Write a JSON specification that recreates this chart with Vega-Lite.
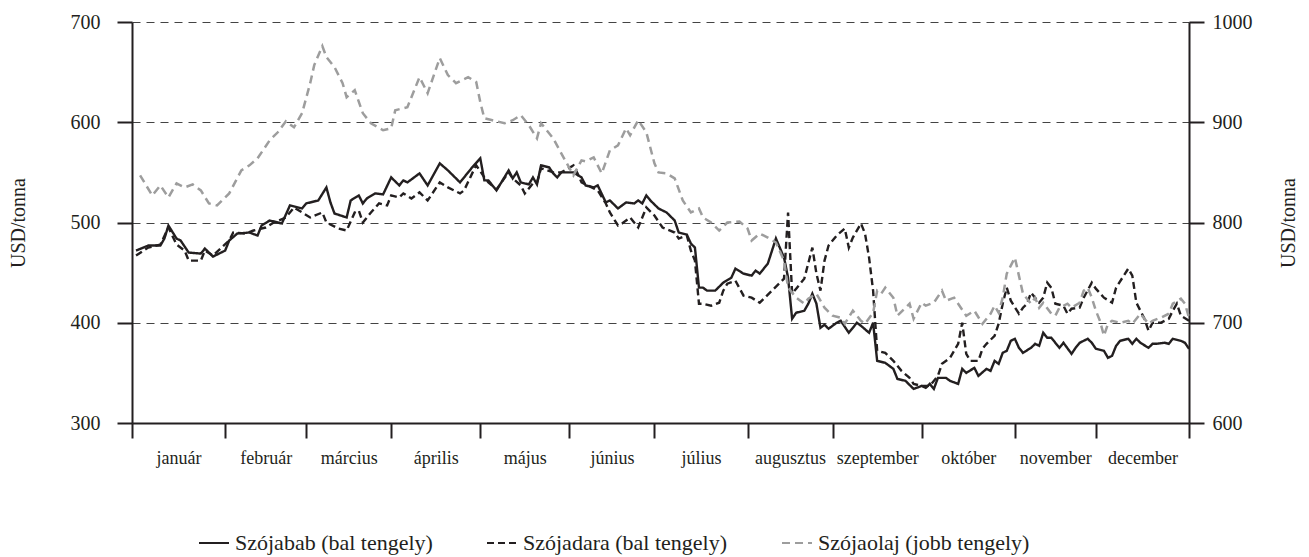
{
  "$schema": "https://vega.github.io/schema/vega-lite/v6.json",
  "autosize": "none",
  "width": 1057,
  "height": 401,
  "padding": {"left": 132, "top": 22, "right": 120, "bottom": 134},
  "config": {
    "font": "Liberation Serif",
    "view": {"stroke": null},
    "axis": {
      "labelFont": "Liberation Serif",
      "titleFont": "Liberation Serif",
      "labelColor": "#231f20",
      "titleColor": "#231f20",
      "domainColor": "#231f20",
      "tickColor": "#231f20",
      "domainWidth": 2,
      "tickWidth": 2,
      "tickSize": 15,
      "titleFontWeight": "normal"
    },
    "legend": {"labelFont": "Liberation Serif"}
  },
  "datasets": {
    "bal": [
      {"nap":1,"termek":"Szójabab (bal tengely)","ertek":472},{"nap":4,"termek":"Szójabab (bal tengely)","ertek":477},{"nap":7,"termek":"Szójabab (bal tengely)","ertek":477},{"nap":8,"termek":"Szójabab (bal tengely)","ertek":484},{"nap":9,"termek":"Szójabab (bal tengely)","ertek":497},{"nap":11,"termek":"Szójabab (bal tengely)","ertek":484},{"nap":12,"termek":"Szójabab (bal tengely)","ertek":482},{"nap":14,"termek":"Szójabab (bal tengely)","ertek":470},{"nap":17,"termek":"Szójabab (bal tengely)","ertek":469},{"nap":18,"termek":"Szójabab (bal tengely)","ertek":474},{"nap":20,"termek":"Szójabab (bal tengely)","ertek":466},{"nap":23,"termek":"Szójabab (bal tengely)","ertek":472},{"nap":24,"termek":"Szójabab (bal tengely)","ertek":482},{"nap":26,"termek":"Szójabab (bal tengely)","ertek":489},{"nap":29,"termek":"Szójabab (bal tengely)","ertek":490},{"nap":31,"termek":"Szójabab (bal tengely)","ertek":487},{"nap":32,"termek":"Szójabab (bal tengely)","ertek":497},{"nap":34,"termek":"Szójabab (bal tengely)","ertek":502},{"nap":37,"termek":"Szójabab (bal tengely)","ertek":499},{"nap":39,"termek":"Szójabab (bal tengely)","ertek":517},{"nap":42,"termek":"Szójabab (bal tengely)","ertek":514},{"nap":43,"termek":"Szójabab (bal tengely)","ertek":519},{"nap":46,"termek":"Szójabab (bal tengely)","ertek":522},{"nap":48,"termek":"Szójabab (bal tengely)","ertek":535},{"nap":49,"termek":"Szójabab (bal tengely)","ertek":520},{"nap":50,"termek":"Szójabab (bal tengely)","ertek":509},{"nap":53,"termek":"Szójabab (bal tengely)","ertek":505},{"nap":54,"termek":"Szójabab (bal tengely)","ertek":522},{"nap":56,"termek":"Szójabab (bal tengely)","ertek":527},{"nap":57,"termek":"Szójabab (bal tengely)","ertek":519},{"nap":58,"termek":"Szójabab (bal tengely)","ertek":524},{"nap":60,"termek":"Szójabab (bal tengely)","ertek":529},{"nap":62,"termek":"Szójabab (bal tengely)","ertek":528},{"nap":64,"termek":"Szójabab (bal tengely)","ertek":545},{"nap":66,"termek":"Szójabab (bal tengely)","ertek":537},{"nap":67,"termek":"Szójabab (bal tengely)","ertek":542},{"nap":68,"termek":"Szójabab (bal tengely)","ertek":540},{"nap":71,"termek":"Szójabab (bal tengely)","ertek":549},{"nap":73,"termek":"Szójabab (bal tengely)","ertek":537},{"nap":76,"termek":"Szójabab (bal tengely)","ertek":559},{"nap":78,"termek":"Szójabab (bal tengely)","ertek":552},{"nap":81,"termek":"Szójabab (bal tengely)","ertek":540},{"nap":83,"termek":"Szójabab (bal tengely)","ertek":550},{"nap":84,"termek":"Szójabab (bal tengely)","ertek":555},{"nap":86,"termek":"Szójabab (bal tengely)","ertek":564},{"nap":87,"termek":"Szójabab (bal tengely)","ertek":542},{"nap":88,"termek":"Szójabab (bal tengely)","ertek":542},{"nap":90,"termek":"Szójabab (bal tengely)","ertek":532},{"nap":93,"termek":"Szójabab (bal tengely)","ertek":552},{"nap":94,"termek":"Szójabab (bal tengely)","ertek":544},{"nap":95,"termek":"Szójabab (bal tengely)","ertek":550},{"nap":96,"termek":"Szójabab (bal tengely)","ertek":540},{"nap":98,"termek":"Szójabab (bal tengely)","ertek":538},{"nap":99,"termek":"Szójabab (bal tengely)","ertek":545},{"nap":100,"termek":"Szójabab (bal tengely)","ertek":538},{"nap":101,"termek":"Szójabab (bal tengely)","ertek":557},{"nap":103,"termek":"Szójabab (bal tengely)","ertek":555},{"nap":104,"termek":"Szójabab (bal tengely)","ertek":549},{"nap":105,"termek":"Szójabab (bal tengely)","ertek":545},{"nap":106,"termek":"Szójabab (bal tengely)","ertek":550},{"nap":109,"termek":"Szójabab (bal tengely)","ertek":550},{"nap":111,"termek":"Szójabab (bal tengely)","ertek":545},{"nap":112,"termek":"Szójabab (bal tengely)","ertek":537},{"nap":114,"termek":"Szójabab (bal tengely)","ertek":535},{"nap":115,"termek":"Szójabab (bal tengely)","ertek":537},{"nap":117,"termek":"Szójabab (bal tengely)","ertek":520},{"nap":118,"termek":"Szójabab (bal tengely)","ertek":522},{"nap":120,"termek":"Szójabab (bal tengely)","ertek":514},{"nap":122,"termek":"Szójabab (bal tengely)","ertek":520},{"nap":124,"termek":"Szójabab (bal tengely)","ertek":519},{"nap":125,"termek":"Szójabab (bal tengely)","ertek":522},{"nap":126,"termek":"Szójabab (bal tengely)","ertek":519},{"nap":127,"termek":"Szójabab (bal tengely)","ertek":527},{"nap":128,"termek":"Szójabab (bal tengely)","ertek":522},{"nap":130,"termek":"Szójabab (bal tengely)","ertek":514},{"nap":132,"termek":"Szójabab (bal tengely)","ertek":510},{"nap":134,"termek":"Szójabab (bal tengely)","ertek":502},{"nap":135,"termek":"Szójabab (bal tengely)","ertek":490},{"nap":137,"termek":"Szójabab (bal tengely)","ertek":488},{"nap":138,"termek":"Szójabab (bal tengely)","ertek":479},{"nap":139,"termek":"Szójabab (bal tengely)","ertek":475},{"nap":140,"termek":"Szójabab (bal tengely)","ertek":435},{"nap":141,"termek":"Szójabab (bal tengely)","ertek":435},{"nap":142,"termek":"Szójabab (bal tengely)","ertek":432},{"nap":144,"termek":"Szójabab (bal tengely)","ertek":432},{"nap":146,"termek":"Szójabab (bal tengely)","ertek":440},{"nap":148,"termek":"Szójabab (bal tengely)","ertek":445},{"nap":149,"termek":"Szójabab (bal tengely)","ertek":454},{"nap":151,"termek":"Szójabab (bal tengely)","ertek":449},{"nap":153,"termek":"Szójabab (bal tengely)","ertek":447},{"nap":154,"termek":"Szójabab (bal tengely)","ertek":452},{"nap":155,"termek":"Szójabab (bal tengely)","ertek":449},{"nap":157,"termek":"Szójabab (bal tengely)","ertek":459},{"nap":159,"termek":"Szójabab (bal tengely)","ertek":484},{"nap":161,"termek":"Szójabab (bal tengely)","ertek":465},{"nap":162,"termek":"Szójabab (bal tengely)","ertek":445},{"nap":163,"termek":"Szójabab (bal tengely)","ertek":404},{"nap":164,"termek":"Szójabab (bal tengely)","ertek":410},{"nap":166,"termek":"Szójabab (bal tengely)","ertek":412},{"nap":167,"termek":"Szójabab (bal tengely)","ertek":419},{"nap":168,"termek":"Szójabab (bal tengely)","ertek":429},{"nap":169,"termek":"Szójabab (bal tengely)","ertek":419},{"nap":170,"termek":"Szójabab (bal tengely)","ertek":395},{"nap":171,"termek":"Szójabab (bal tengely)","ertek":398},{"nap":172,"termek":"Szójabab (bal tengely)","ertek":394},{"nap":174,"termek":"Szójabab (bal tengely)","ertek":400},{"nap":175,"termek":"Szójabab (bal tengely)","ertek":402},{"nap":177,"termek":"Szójabab (bal tengely)","ertek":390},{"nap":179,"termek":"Szójabab (bal tengely)","ertek":400},{"nap":180,"termek":"Szójabab (bal tengely)","ertek":397},{"nap":182,"termek":"Szójabab (bal tengely)","ertek":390},{"nap":183,"termek":"Szójabab (bal tengely)","ertek":400},{"nap":184,"termek":"Szójabab (bal tengely)","ertek":362},{"nap":186,"termek":"Szójabab (bal tengely)","ertek":360},{"nap":188,"termek":"Szójabab (bal tengely)","ertek":354},{"nap":189,"termek":"Szójabab (bal tengely)","ertek":344},{"nap":191,"termek":"Szójabab (bal tengely)","ertek":342},{"nap":193,"termek":"Szójabab (bal tengely)","ertek":334},{"nap":195,"termek":"Szójabab (bal tengely)","ertek":337},{"nap":196,"termek":"Szójabab (bal tengely)","ertek":335},{"nap":197,"termek":"Szójabab (bal tengely)","ertek":339},{"nap":198,"termek":"Szójabab (bal tengely)","ertek":334},{"nap":199,"termek":"Szójabab (bal tengely)","ertek":345},{"nap":201,"termek":"Szójabab (bal tengely)","ertek":345},{"nap":202,"termek":"Szójabab (bal tengely)","ertek":342},{"nap":204,"termek":"Szójabab (bal tengely)","ertek":339},{"nap":205,"termek":"Szójabab (bal tengely)","ertek":354},{"nap":206,"termek":"Szójabab (bal tengely)","ertek":350},{"nap":208,"termek":"Szójabab (bal tengely)","ertek":355},{"nap":209,"termek":"Szójabab (bal tengely)","ertek":347},{"nap":211,"termek":"Szójabab (bal tengely)","ertek":354},{"nap":212,"termek":"Szójabab (bal tengely)","ertek":352},{"nap":213,"termek":"Szójabab (bal tengely)","ertek":362},{"nap":214,"termek":"Szójabab (bal tengely)","ertek":359},{"nap":215,"termek":"Szójabab (bal tengely)","ertek":370},{"nap":216,"termek":"Szójabab (bal tengely)","ertek":372},{"nap":217,"termek":"Szójabab (bal tengely)","ertek":382},{"nap":218,"termek":"Szójabab (bal tengely)","ertek":384},{"nap":219,"termek":"Szójabab (bal tengely)","ertek":375},{"nap":220,"termek":"Szójabab (bal tengely)","ertek":370},{"nap":222,"termek":"Szójabab (bal tengely)","ertek":375},{"nap":223,"termek":"Szójabab (bal tengely)","ertek":379},{"nap":224,"termek":"Szójabab (bal tengely)","ertek":377},{"nap":225,"termek":"Szójabab (bal tengely)","ertek":390},{"nap":226,"termek":"Szójabab (bal tengely)","ertek":385},{"nap":227,"termek":"Szójabab (bal tengely)","ertek":385},{"nap":229,"termek":"Szójabab (bal tengely)","ertek":375},{"nap":230,"termek":"Szójabab (bal tengely)","ertek":380},{"nap":232,"termek":"Szójabab (bal tengely)","ertek":369},{"nap":233,"termek":"Szójabab (bal tengely)","ertek":375},{"nap":234,"termek":"Szójabab (bal tengely)","ertek":380},{"nap":236,"termek":"Szójabab (bal tengely)","ertek":384},{"nap":237,"termek":"Szójabab (bal tengely)","ertek":380},{"nap":238,"termek":"Szójabab (bal tengely)","ertek":374},{"nap":240,"termek":"Szójabab (bal tengely)","ertek":372},{"nap":241,"termek":"Szójabab (bal tengely)","ertek":365},{"nap":242,"termek":"Szójabab (bal tengely)","ertek":367},{"nap":243,"termek":"Szójabab (bal tengely)","ertek":377},{"nap":244,"termek":"Szójabab (bal tengely)","ertek":382},{"nap":246,"termek":"Szójabab (bal tengely)","ertek":384},{"nap":247,"termek":"Szójabab (bal tengely)","ertek":379},{"nap":248,"termek":"Szójabab (bal tengely)","ertek":384},{"nap":249,"termek":"Szójabab (bal tengely)","ertek":380},{"nap":251,"termek":"Szójabab (bal tengely)","ertek":375},{"nap":252,"termek":"Szójabab (bal tengely)","ertek":379},{"nap":253,"termek":"Szójabab (bal tengely)","ertek":379},{"nap":255,"termek":"Szójabab (bal tengely)","ertek":380},{"nap":256,"termek":"Szójabab (bal tengely)","ertek":379},{"nap":257,"termek":"Szójabab (bal tengely)","ertek":384},{"nap":259,"termek":"Szójabab (bal tengely)","ertek":382},{"nap":260,"termek":"Szójabab (bal tengely)","ertek":380},{"nap":261,"termek":"Szójabab (bal tengely)","ertek":374},
      {"nap":1,"termek":"Szójadara (bal tengely)","ertek":467},{"nap":4,"termek":"Szójadara (bal tengely)","ertek":475},{"nap":7,"termek":"Szójadara (bal tengely)","ertek":478},{"nap":9,"termek":"Szójadara (bal tengely)","ertek":495},{"nap":11,"termek":"Szójadara (bal tengely)","ertek":478},{"nap":13,"termek":"Szójadara (bal tengely)","ertek":472},{"nap":14,"termek":"Szójadara (bal tengely)","ertek":462},{"nap":17,"termek":"Szójadara (bal tengely)","ertek":462},{"nap":18,"termek":"Szójadara (bal tengely)","ertek":472},{"nap":20,"termek":"Szójadara (bal tengely)","ertek":467},{"nap":24,"termek":"Szójadara (bal tengely)","ertek":482},{"nap":25,"termek":"Szójadara (bal tengely)","ertek":490},{"nap":28,"termek":"Szójadara (bal tengely)","ertek":489},{"nap":30,"termek":"Szójadara (bal tengely)","ertek":492},{"nap":33,"termek":"Szójadara (bal tengely)","ertek":495},{"nap":35,"termek":"Szójadara (bal tengely)","ertek":500},{"nap":38,"termek":"Szójadara (bal tengely)","ertek":505},{"nap":40,"termek":"Szójadara (bal tengely)","ertek":515},{"nap":42,"termek":"Szójadara (bal tengely)","ertek":510},{"nap":44,"termek":"Szójadara (bal tengely)","ertek":505},{"nap":47,"termek":"Szójadara (bal tengely)","ertek":510},{"nap":48,"termek":"Szójadara (bal tengely)","ertek":500},{"nap":51,"termek":"Szójadara (bal tengely)","ertek":494},{"nap":53,"termek":"Szójadara (bal tengely)","ertek":492},{"nap":55,"termek":"Szójadara (bal tengely)","ertek":510},{"nap":56,"termek":"Szójadara (bal tengely)","ertek":512},{"nap":57,"termek":"Szójadara (bal tengely)","ertek":500},{"nap":59,"termek":"Szójadara (bal tengely)","ertek":510},{"nap":61,"termek":"Szójadara (bal tengely)","ertek":519},{"nap":63,"termek":"Szójadara (bal tengely)","ertek":517},{"nap":64,"termek":"Szójadara (bal tengely)","ertek":527},{"nap":66,"termek":"Szójadara (bal tengely)","ertek":525},{"nap":67,"termek":"Szójadara (bal tengely)","ertek":529},{"nap":69,"termek":"Szójadara (bal tengely)","ertek":524},{"nap":71,"termek":"Szójadara (bal tengely)","ertek":530},{"nap":73,"termek":"Szójadara (bal tengely)","ertek":522},{"nap":76,"termek":"Szójadara (bal tengely)","ertek":540},{"nap":78,"termek":"Szójadara (bal tengely)","ertek":535},{"nap":81,"termek":"Szójadara (bal tengely)","ertek":529},{"nap":82,"termek":"Szójadara (bal tengely)","ertek":532},{"nap":84,"termek":"Szójadara (bal tengely)","ertek":549},{"nap":85,"termek":"Szójadara (bal tengely)","ertek":557},{"nap":87,"termek":"Szójadara (bal tengely)","ertek":545},{"nap":88,"termek":"Szójadara (bal tengely)","ertek":540},{"nap":90,"termek":"Szójadara (bal tengely)","ertek":533},{"nap":93,"termek":"Szójadara (bal tengely)","ertek":550},{"nap":94,"termek":"Szójadara (bal tengely)","ertek":544},{"nap":96,"termek":"Szójadara (bal tengely)","ertek":537},{"nap":97,"termek":"Szójadara (bal tengely)","ertek":529},{"nap":99,"termek":"Szójadara (bal tengely)","ertek":539},{"nap":100,"termek":"Szójadara (bal tengely)","ertek":540},{"nap":101,"termek":"Szójadara (bal tengely)","ertek":554},{"nap":104,"termek":"Szójadara (bal tengely)","ertek":550},{"nap":106,"termek":"Szójadara (bal tengely)","ertek":550},{"nap":109,"termek":"Szójadara (bal tengely)","ertek":557},{"nap":110,"termek":"Szójadara (bal tengely)","ertek":549},{"nap":111,"termek":"Szójadara (bal tengely)","ertek":540},{"nap":114,"termek":"Szójadara (bal tengely)","ertek":534},{"nap":115,"termek":"Szójadara (bal tengely)","ertek":532},{"nap":117,"termek":"Szójadara (bal tengely)","ertek":519},{"nap":118,"termek":"Szójadara (bal tengely)","ertek":510},{"nap":120,"termek":"Szójadara (bal tengely)","ertek":497},{"nap":121,"termek":"Szójadara (bal tengely)","ertek":499},{"nap":123,"termek":"Szójadara (bal tengely)","ertek":505},{"nap":125,"termek":"Szójadara (bal tengely)","ertek":495},{"nap":126,"termek":"Szójadara (bal tengely)","ertek":505},{"nap":127,"termek":"Szójadara (bal tengely)","ertek":515},{"nap":129,"termek":"Szójadara (bal tengely)","ertek":507},{"nap":131,"termek":"Szójadara (bal tengely)","ertek":495},{"nap":134,"termek":"Szójadara (bal tengely)","ertek":490},{"nap":135,"termek":"Szójadara (bal tengely)","ertek":484},{"nap":137,"termek":"Szójadara (bal tengely)","ertek":487},{"nap":138,"termek":"Szójadara (bal tengely)","ertek":472},{"nap":139,"termek":"Szójadara (bal tengely)","ertek":462},{"nap":140,"termek":"Szójadara (bal tengely)","ertek":419},{"nap":141,"termek":"Szójadara (bal tengely)","ertek":419},{"nap":143,"termek":"Szójadara (bal tengely)","ertek":417},{"nap":145,"termek":"Szójadara (bal tengely)","ertek":420},{"nap":146,"termek":"Szójadara (bal tengely)","ertek":432},{"nap":147,"termek":"Szójadara (bal tengely)","ertek":439},{"nap":149,"termek":"Szójadara (bal tengely)","ertek":442},{"nap":151,"termek":"Szójadara (bal tengely)","ertek":427},{"nap":153,"termek":"Szójadara (bal tengely)","ertek":425},{"nap":155,"termek":"Szójadara (bal tengely)","ertek":420},{"nap":158,"termek":"Szójadara (bal tengely)","ertek":432},{"nap":160,"termek":"Szójadara (bal tengely)","ertek":440},{"nap":161,"termek":"Szójadara (bal tengely)","ertek":444},{"nap":162,"termek":"Szójadara (bal tengely)","ertek":510},{"nap":163,"termek":"Szójadara (bal tengely)","ertek":429},{"nap":164,"termek":"Szójadara (bal tengely)","ertek":434},{"nap":166,"termek":"Szójadara (bal tengely)","ertek":444},{"nap":168,"termek":"Szójadara (bal tengely)","ertek":475},{"nap":169,"termek":"Szójadara (bal tengely)","ertek":449},{"nap":170,"termek":"Szójadara (bal tengely)","ertek":432},{"nap":171,"termek":"Szójadara (bal tengely)","ertek":462},{"nap":172,"termek":"Szójadara (bal tengely)","ertek":477},{"nap":174,"termek":"Szójadara (bal tengely)","ertek":487},{"nap":176,"termek":"Szójadara (bal tengely)","ertek":494},{"nap":177,"termek":"Szójadara (bal tengely)","ertek":475},{"nap":178,"termek":"Szójadara (bal tengely)","ertek":485},{"nap":180,"termek":"Szójadara (bal tengely)","ertek":499},{"nap":181,"termek":"Szójadara (bal tengely)","ertek":489},{"nap":182,"termek":"Szójadara (bal tengely)","ertek":465},{"nap":183,"termek":"Szójadara (bal tengely)","ertek":432},{"nap":184,"termek":"Szójadara (bal tengely)","ertek":372},{"nap":186,"termek":"Szójadara (bal tengely)","ertek":370},{"nap":188,"termek":"Szójadara (bal tengely)","ertek":362},{"nap":190,"termek":"Szójadara (bal tengely)","ertek":352},{"nap":192,"termek":"Szójadara (bal tengely)","ertek":345},{"nap":193,"termek":"Szójadara (bal tengely)","ertek":339},{"nap":195,"termek":"Szójadara (bal tengely)","ertek":337},{"nap":197,"termek":"Szójadara (bal tengely)","ertek":337},{"nap":199,"termek":"Szójadara (bal tengely)","ertek":347},{"nap":200,"termek":"Szójadara (bal tengely)","ertek":359},{"nap":202,"termek":"Szójadara (bal tengely)","ertek":365},{"nap":204,"termek":"Szójadara (bal tengely)","ertek":379},{"nap":205,"termek":"Szójadara (bal tengely)","ertek":400},{"nap":206,"termek":"Szójadara (bal tengely)","ertek":369},{"nap":207,"termek":"Szójadara (bal tengely)","ertek":362},{"nap":209,"termek":"Szójadara (bal tengely)","ertek":362},{"nap":210,"termek":"Szójadara (bal tengely)","ertek":374},{"nap":211,"termek":"Szójadara (bal tengely)","ertek":379},{"nap":213,"termek":"Szójadara (bal tengely)","ertek":387},{"nap":214,"termek":"Szójadara (bal tengely)","ertek":399},{"nap":215,"termek":"Szójadara (bal tengely)","ertek":419},{"nap":216,"termek":"Szójadara (bal tengely)","ertek":435},{"nap":217,"termek":"Szójadara (bal tengely)","ertek":422},{"nap":219,"termek":"Szójadara (bal tengely)","ertek":409},{"nap":220,"termek":"Szójadara (bal tengely)","ertek":415},{"nap":221,"termek":"Szójadara (bal tengely)","ertek":419},{"nap":222,"termek":"Szójadara (bal tengely)","ertek":430},{"nap":224,"termek":"Szójadara (bal tengely)","ertek":420},{"nap":225,"termek":"Szójadara (bal tengely)","ertek":425},{"nap":226,"termek":"Szójadara (bal tengely)","ertek":440},{"nap":227,"termek":"Szójadara (bal tengely)","ertek":435},{"nap":228,"termek":"Szójadara (bal tengely)","ertek":419},{"nap":230,"termek":"Szójadara (bal tengely)","ertek":417},{"nap":231,"termek":"Szójadara (bal tengely)","ertek":409},{"nap":232,"termek":"Szójadara (bal tengely)","ertek":414},{"nap":234,"termek":"Szójadara (bal tengely)","ertek":415},{"nap":235,"termek":"Szójadara (bal tengely)","ertek":425},{"nap":237,"termek":"Szójadara (bal tengely)","ertek":440},{"nap":238,"termek":"Szójadara (bal tengely)","ertek":434},{"nap":240,"termek":"Szójadara (bal tengely)","ertek":425},{"nap":242,"termek":"Szójadara (bal tengely)","ertek":420},{"nap":243,"termek":"Szójadara (bal tengely)","ertek":435},{"nap":246,"termek":"Szójadara (bal tengely)","ertek":454},{"nap":247,"termek":"Szójadara (bal tengely)","ertek":447},{"nap":248,"termek":"Szójadara (bal tengely)","ertek":420},{"nap":250,"termek":"Szójadara (bal tengely)","ertek":404},{"nap":251,"termek":"Szójadara (bal tengely)","ertek":392},{"nap":252,"termek":"Szójadara (bal tengely)","ertek":400},{"nap":254,"termek":"Szójadara (bal tengely)","ertek":400},{"nap":256,"termek":"Szójadara (bal tengely)","ertek":404},{"nap":257,"termek":"Szójadara (bal tengely)","ertek":412},{"nap":258,"termek":"Szójadara (bal tengely)","ertek":419},{"nap":259,"termek":"Szójadara (bal tengely)","ertek":407},{"nap":261,"termek":"Szójadara (bal tengely)","ertek":402}
    ],
    "jobb": [
      {"nap":2,"termek":"Szójaolaj (jobb tengely)","ertek":847},{"nap":5,"termek":"Szójaolaj (jobb tengely)","ertek":827},{"nap":7,"termek":"Szójaolaj (jobb tengely)","ertek":837},{"nap":9,"termek":"Szójaolaj (jobb tengely)","ertek":825},{"nap":11,"termek":"Szójaolaj (jobb tengely)","ertek":839},{"nap":13,"termek":"Szójaolaj (jobb tengely)","ertek":835},{"nap":15,"termek":"Szójaolaj (jobb tengely)","ertek":838},{"nap":17,"termek":"Szójaolaj (jobb tengely)","ertek":832},{"nap":19,"termek":"Szójaolaj (jobb tengely)","ertek":819},{"nap":21,"termek":"Szójaolaj (jobb tengely)","ertek":817},{"nap":24,"termek":"Szójaolaj (jobb tengely)","ertek":829},{"nap":27,"termek":"Szójaolaj (jobb tengely)","ertek":852},{"nap":29,"termek":"Szójaolaj (jobb tengely)","ertek":857},{"nap":31,"termek":"Szójaolaj (jobb tengely)","ertek":864},{"nap":34,"termek":"Szójaolaj (jobb tengely)","ertek":882},{"nap":36,"termek":"Szójaolaj (jobb tengely)","ertek":890},{"nap":38,"termek":"Szójaolaj (jobb tengely)","ertek":901},{"nap":40,"termek":"Szójaolaj (jobb tengely)","ertek":895},{"nap":42,"termek":"Szójaolaj (jobb tengely)","ertek":909},{"nap":44,"termek":"Szójaolaj (jobb tengely)","ertek":939},{"nap":45,"termek":"Szójaolaj (jobb tengely)","ertek":957},{"nap":47,"termek":"Szójaolaj (jobb tengely)","ertek":976},{"nap":48,"termek":"Szójaolaj (jobb tengely)","ertek":965},{"nap":50,"termek":"Szójaolaj (jobb tengely)","ertek":955},{"nap":52,"termek":"Szójaolaj (jobb tengely)","ertek":939},{"nap":53,"termek":"Szójaolaj (jobb tengely)","ertek":925},{"nap":55,"termek":"Szójaolaj (jobb tengely)","ertek":932},{"nap":57,"termek":"Szójaolaj (jobb tengely)","ertek":909},{"nap":59,"termek":"Szójaolaj (jobb tengely)","ertek":899},{"nap":62,"termek":"Szójaolaj (jobb tengely)","ertek":892},{"nap":64,"termek":"Szójaolaj (jobb tengely)","ertek":894},{"nap":65,"termek":"Szójaolaj (jobb tengely)","ertek":912},{"nap":68,"termek":"Szójaolaj (jobb tengely)","ertek":915},{"nap":71,"termek":"Szójaolaj (jobb tengely)","ertek":945},{"nap":73,"termek":"Szójaolaj (jobb tengely)","ertek":929},{"nap":76,"termek":"Szójaolaj (jobb tengely)","ertek":964},{"nap":78,"termek":"Szójaolaj (jobb tengely)","ertek":947},{"nap":80,"termek":"Szójaolaj (jobb tengely)","ertek":939},{"nap":83,"termek":"Szójaolaj (jobb tengely)","ertek":945},{"nap":85,"termek":"Szójaolaj (jobb tengely)","ertek":940},{"nap":86,"termek":"Szójaolaj (jobb tengely)","ertek":920},{"nap":87,"termek":"Szójaolaj (jobb tengely)","ertek":904},{"nap":89,"termek":"Szójaolaj (jobb tengely)","ertek":902},{"nap":92,"termek":"Szójaolaj (jobb tengely)","ertek":899},{"nap":94,"termek":"Szójaolaj (jobb tengely)","ertek":902},{"nap":96,"termek":"Szójaolaj (jobb tengely)","ertek":907},{"nap":98,"termek":"Szójaolaj (jobb tengely)","ertek":897},{"nap":100,"termek":"Szójaolaj (jobb tengely)","ertek":884},{"nap":101,"termek":"Szójaolaj (jobb tengely)","ertek":899},{"nap":104,"termek":"Szójaolaj (jobb tengely)","ertek":884},{"nap":106,"termek":"Szójaolaj (jobb tengely)","ertek":869},{"nap":109,"termek":"Szójaolaj (jobb tengely)","ertek":847},{"nap":111,"termek":"Szójaolaj (jobb tengely)","ertek":862},{"nap":112,"termek":"Szójaolaj (jobb tengely)","ertek":861},{"nap":114,"termek":"Szójaolaj (jobb tengely)","ertek":865},{"nap":116,"termek":"Szójaolaj (jobb tengely)","ertek":849},{"nap":118,"termek":"Szójaolaj (jobb tengely)","ertek":872},{"nap":120,"termek":"Szójaolaj (jobb tengely)","ertek":877},{"nap":122,"termek":"Szójaolaj (jobb tengely)","ertek":894},{"nap":123,"termek":"Szójaolaj (jobb tengely)","ertek":887},{"nap":125,"termek":"Szójaolaj (jobb tengely)","ertek":902},{"nap":127,"termek":"Szójaolaj (jobb tengely)","ertek":890},{"nap":129,"termek":"Szójaolaj (jobb tengely)","ertek":859},{"nap":130,"termek":"Szójaolaj (jobb tengely)","ertek":850},{"nap":132,"termek":"Szójaolaj (jobb tengely)","ertek":849},{"nap":134,"termek":"Szójaolaj (jobb tengely)","ertek":844},{"nap":136,"termek":"Szójaolaj (jobb tengely)","ertek":822},{"nap":138,"termek":"Szójaolaj (jobb tengely)","ertek":810},{"nap":140,"termek":"Szójaolaj (jobb tengely)","ertek":814},{"nap":141,"termek":"Szójaolaj (jobb tengely)","ertek":805},{"nap":143,"termek":"Szójaolaj (jobb tengely)","ertek":800},{"nap":145,"termek":"Szójaolaj (jobb tengely)","ertek":792},{"nap":147,"termek":"Szójaolaj (jobb tengely)","ertek":800},{"nap":150,"termek":"Szójaolaj (jobb tengely)","ertek":801},{"nap":152,"termek":"Szójaolaj (jobb tengely)","ertek":794},{"nap":153,"termek":"Szójaolaj (jobb tengely)","ertek":782},{"nap":155,"termek":"Szójaolaj (jobb tengely)","ertek":789},{"nap":157,"termek":"Szójaolaj (jobb tengely)","ertek":785},{"nap":159,"termek":"Szójaolaj (jobb tengely)","ertek":780},{"nap":161,"termek":"Szójaolaj (jobb tengely)","ertek":762},{"nap":162,"termek":"Szójaolaj (jobb tengely)","ertek":735},{"nap":164,"termek":"Szójaolaj (jobb tengely)","ertek":725},{"nap":166,"termek":"Szójaolaj (jobb tengely)","ertek":719},{"nap":167,"termek":"Szójaolaj (jobb tengely)","ertek":724},{"nap":169,"termek":"Szójaolaj (jobb tengely)","ertek":729},{"nap":171,"termek":"Szójaolaj (jobb tengely)","ertek":715},{"nap":173,"termek":"Szójaolaj (jobb tengely)","ertek":707},{"nap":175,"termek":"Szójaolaj (jobb tengely)","ertek":705},{"nap":176,"termek":"Szójaolaj (jobb tengely)","ertek":699},{"nap":178,"termek":"Szójaolaj (jobb tengely)","ertek":712},{"nap":180,"termek":"Szójaolaj (jobb tengely)","ertek":702},{"nap":181,"termek":"Szójaolaj (jobb tengely)","ertek":699},{"nap":183,"termek":"Szójaolaj (jobb tengely)","ertek":710},{"nap":184,"termek":"Szójaolaj (jobb tengely)","ertek":732},{"nap":185,"termek":"Szójaolaj (jobb tengely)","ertek":729},{"nap":186,"termek":"Szójaolaj (jobb tengely)","ertek":735},{"nap":188,"termek":"Szójaolaj (jobb tengely)","ertek":725},{"nap":189,"termek":"Szójaolaj (jobb tengely)","ertek":707},{"nap":191,"termek":"Szójaolaj (jobb tengely)","ertek":715},{"nap":192,"termek":"Szójaolaj (jobb tengely)","ertek":719},{"nap":193,"termek":"Szójaolaj (jobb tengely)","ertek":704},{"nap":195,"termek":"Szójaolaj (jobb tengely)","ertek":720},{"nap":196,"termek":"Szójaolaj (jobb tengely)","ertek":717},{"nap":198,"termek":"Szójaolaj (jobb tengely)","ertek":720},{"nap":200,"termek":"Szójaolaj (jobb tengely)","ertek":732},{"nap":201,"termek":"Szójaolaj (jobb tengely)","ertek":722},{"nap":203,"termek":"Szójaolaj (jobb tengely)","ertek":725},{"nap":204,"termek":"Szójaolaj (jobb tengely)","ertek":719},{"nap":206,"termek":"Szójaolaj (jobb tengely)","ertek":707},{"nap":208,"termek":"Szójaolaj (jobb tengely)","ertek":712},{"nap":210,"termek":"Szójaolaj (jobb tengely)","ertek":699},{"nap":212,"termek":"Szójaolaj (jobb tengely)","ertek":709},{"nap":213,"termek":"Szójaolaj (jobb tengely)","ertek":717},{"nap":214,"termek":"Szójaolaj (jobb tengely)","ertek":710},{"nap":215,"termek":"Szójaolaj (jobb tengely)","ertek":725},{"nap":216,"termek":"Szójaolaj (jobb tengely)","ertek":749},{"nap":217,"termek":"Szójaolaj (jobb tengely)","ertek":757},{"nap":218,"termek":"Szójaolaj (jobb tengely)","ertek":765},{"nap":219,"termek":"Szójaolaj (jobb tengely)","ertek":747},{"nap":220,"termek":"Szójaolaj (jobb tengely)","ertek":729},{"nap":222,"termek":"Szójaolaj (jobb tengely)","ertek":719},{"nap":223,"termek":"Szójaolaj (jobb tengely)","ertek":725},{"nap":224,"termek":"Szójaolaj (jobb tengely)","ertek":715},{"nap":225,"termek":"Szójaolaj (jobb tengely)","ertek":720},{"nap":227,"termek":"Szójaolaj (jobb tengely)","ertek":709},{"nap":228,"termek":"Szójaolaj (jobb tengely)","ertek":707},{"nap":229,"termek":"Szójaolaj (jobb tengely)","ertek":715},{"nap":231,"termek":"Szójaolaj (jobb tengely)","ertek":719},{"nap":232,"termek":"Szójaolaj (jobb tengely)","ertek":715},{"nap":234,"termek":"Szójaolaj (jobb tengely)","ertek":720},{"nap":235,"termek":"Szójaolaj (jobb tengely)","ertek":732},{"nap":236,"termek":"Szójaolaj (jobb tengely)","ertek":735},{"nap":237,"termek":"Szójaolaj (jobb tengely)","ertek":725},{"nap":238,"termek":"Szójaolaj (jobb tengely)","ertek":712},{"nap":239,"termek":"Szójaolaj (jobb tengely)","ertek":702},{"nap":240,"termek":"Szójaolaj (jobb tengely)","ertek":687},{"nap":241,"termek":"Szójaolaj (jobb tengely)","ertek":699},{"nap":242,"termek":"Szójaolaj (jobb tengely)","ertek":702},{"nap":244,"termek":"Szójaolaj (jobb tengely)","ertek":700},{"nap":246,"termek":"Szójaolaj (jobb tengely)","ertek":702},{"nap":247,"termek":"Szójaolaj (jobb tengely)","ertek":699},{"nap":249,"termek":"Szójaolaj (jobb tengely)","ertek":709},{"nap":251,"termek":"Szójaolaj (jobb tengely)","ertek":699},{"nap":252,"termek":"Szójaolaj (jobb tengely)","ertek":702},{"nap":254,"termek":"Szójaolaj (jobb tengely)","ertek":705},{"nap":256,"termek":"Szójaolaj (jobb tengely)","ertek":709},{"nap":257,"termek":"Szójaolaj (jobb tengely)","ertek":719},{"nap":259,"termek":"Szójaolaj (jobb tengely)","ertek":724},{"nap":260,"termek":"Szójaolaj (jobb tengely)","ertek":719},{"nap":261,"termek":"Szójaolaj (jobb tengely)","ertek":705}
    ]
  },
  "layer": [
    {
      "data": {"name": "bal"},
      "mark": {"type": "line", "strokeWidth": 2.4},
      "encoding": {
        "x": {
          "field": "nap", "type": "quantitative",
          "scale": {"domain": [0, 261], "nice": false, "zero": false},
          "axis": {
            "orient": "bottom",
            "title": null,
            "values": [0, 23, 43, 64, 86, 108, 129, 152, 173, 195, 218, 238, 261],
            "labels": false, "grid": false, "tickSize": 15, "zindex": 2
          }
        },
        "y": {
          "field": "ertek", "type": "quantitative",
          "scale": {"domain": [300, 700], "nice": false, "zero": false},
          "axis": {
            "orient": "left",
            "title": "USD/tonna",
            "titleFontSize": 20,
            "titlePadding": 42,
            "values": [300, 400, 500, 600, 700],
            "labelFontSize": 20,
            "labelPadding": 17,
            "grid": true,
            "gridDash": [8, 6],
            "gridColor": "#444444",
            "gridWidth": 1.2
          }
        },
        "color": {
          "field": "termek", "type": "nominal",
          "scale": {
            "domain": ["Szójabab (bal tengely)", "Szójadara (bal tengely)", "Szójaolaj (jobb tengely)"],
            "range": ["#231f20", "#231f20", "#9d9d9d"]
          },
          "legend": {
            "title": null, "orient": "none", "direction": "horizontal",
            "legendX": 66, "legendY": 505,
            "labelFont": "Liberation Serif",
            "labelFontSize": 22, "labelColor": "#231f20",
            "symbolType": "stroke", "symbolSize": 900, "symbolStrokeWidth": 2,
            "labelOffset": 5,
            "columnPadding": 50, "labelLimit": 400
          }
        },
        "strokeDash": {
          "field": "termek", "type": "nominal",
          "scale": {
            "domain": ["Szójabab (bal tengely)", "Szójadara (bal tengely)", "Szójaolaj (jobb tengely)"],
            "range": [[1, 0], [7, 4], [8, 5]]
          },
          "legend": {
            "title": null, "orient": "none", "direction": "horizontal",
            "legendX": 66, "legendY": 505,
            "labelFont": "Liberation Serif",
            "labelFontSize": 22, "labelColor": "#231f20",
            "symbolType": "stroke", "symbolSize": 900, "symbolStrokeWidth": 2,
            "labelOffset": 5,
            "columnPadding": 50, "labelLimit": 400
          }
        }
      }
    },
    {
      "data": {"name": "jobb"},
      "mark": {"type": "line", "strokeWidth": 2.5},
      "encoding": {
        "x": {
          "field": "nap", "type": "quantitative",
          "scale": {"domain": [0, 261], "nice": false, "zero": false},
          "axis": {
            "orient": "bottom",
            "title": null,
            "values": [11.5, 33, 53.5, 75, 97, 118.5, 140.5, 162.5, 184, 206.5, 228, 249.5],
            "labelExpr": "['január','február','március','április','május','június','július','augusztus','szeptember','október','november','december'][indexof([11.5,33,53.5,75,97,118.5,140.5,162.5,184,206.5,228,249.5], datum.value)]",
            "ticks": false, "domain": false, "grid": false,
            "labelFontSize": 18, "labelPadding": 26
          }
        },
        "y": {
          "field": "ertek", "type": "quantitative",
          "scale": {"domain": [600, 1000], "nice": false, "zero": false},
          "axis": {
            "orient": "right",
            "title": "USD/tonna",
            "titleFontSize": 20,
            "titleAngle": 270,
            "titlePadding": 46,
            "format": "d",
            "values": [600, 700, 800, 900, 1000],
            "labelFontSize": 20,
            "labelPadding": 8,
            "grid": false
          }
        },
        "color": {"field": "termek", "type": "nominal"},
        "strokeDash": {"field": "termek", "type": "nominal"}
      }
    }
  ],
  "resolve": {"scale": {"y": "independent"}, "axis": {"x": "independent"}}
}
